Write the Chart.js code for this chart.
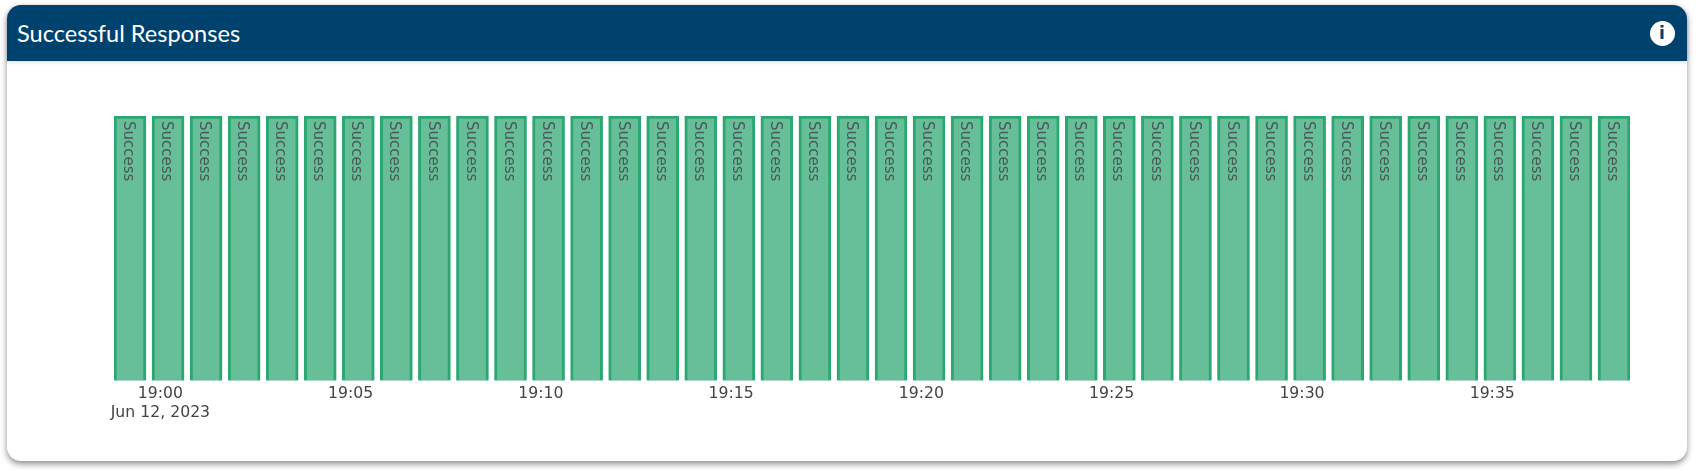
<!DOCTYPE html>
<html>
<head>
<meta charset="utf-8">
<title>Successful Responses</title>
<script src="https://cdn.jsdelivr.net/npm/chart.js@4"></script>
<style>
html, body { margin: 0; padding: 0; background: #fff; }
body { width: 1703px; height: 471px; position: relative; overflow: hidden; }
.card {
    position: absolute; left: 7px; top: 5px; width: 1680px; height: 456px;
    background: #fff; border-radius: 14px;
    box-shadow: 0 3px 6px rgba(0, 0, 0, 0.45);
}
.head {
    height: 56px; background: #00426e; border-radius: 14px 14px 0 0;
    color: #fff; font: 23.6px Lato, sans-serif; line-height: 56px; padding-left: 10px;
    box-sizing: border-box; position: relative;
    box-shadow: 0 1px 4px rgba(0, 0, 0, 0.15);
}
.info {
    position: absolute; right: 12.5px; top: 15.5px; width: 25px; height: 25px; border-radius: 50%;
    background: #fff; color: #00426e; font: bold 17px/25px "DejaVu Sans", sans-serif; text-align: center;
}
#wrap { position: absolute; left: 0; top: 0; width: 1703px; height: 471px; }
#grafico { display: block; }
</style>
</head>
<body>
<div class="card">
    <div class="head">Successful Responses<span class="info">i</span></div>
</div>
<div id="wrap"><canvas id="grafico" width="1703" height="471"></canvas></div>
<script>
// minutes after 19:00 for each bar
const minutos = [-0.8, 0.2, 1.2, 2.2, 3.2, 4.2, 5.2, 6.2, 7.2, 8.2, 9.2, 10.2, 11.2, 12.2, 13.2, 14.2, 15.2, 16.2, 17.2, 18.2,
    19.2, 20.2, 21.2, 22.2, 23.2, 24.2, 25.2, 26.2, 27.2, 28.2, 29.2, 30.2, 31.2, 32.2, 33.2, 34.2, 35.2, 36.2, 37.2, 38.2];
const valores = [1, 1, 1, 1, 1, 1, 1, 1, 1, 1, 1, 1, 1, 1, 1, 1, 1, 1, 1, 1,
    1, 1, 1, 1, 1, 1, 1, 1, 1, 1, 1, 1, 1, 1, 1, 1, 1, 1, 1, 1];
const status = "Success";
const ticksMin = [0, 5, 10, 15, 20, 25, 30, 35];
const ticksTexto = [["19:00", "Jun 12, 2023"], "19:05", "19:10", "19:15", "19:20", "19:25", "19:30", "19:35"];

// writes the status rotated inside each bar
const textoBarras = {
    id: 'textoBarras',
    afterDatasetsDraw(chart) {
        const ctx = chart.ctx;
        ctx.save();
        ctx.fillStyle = '#4b5856';
        ctx.font = '15px "DejaVu Sans", sans-serif';
        ctx.textAlign = 'left';
        ctx.textBaseline = 'middle';
        chart.getDatasetMeta(0).data.forEach(function (bar) {
            ctx.save();
            ctx.translate(bar.x - 2, bar.y + 5);
            ctx.rotate(Math.PI / 2);
            ctx.fillText(status, 0, 0);
            ctx.restore();
        });
        ctx.restore();
    }
};

const ctx = document.getElementById('grafico');

new Chart(ctx, {
    type: 'bar',
    data: {
        datasets: [{
            label: status,
            data: minutos.map(function (m, i) { return { x: m, y: valores[i] }; }),
            backgroundColor: 'rgba(103, 191, 153, 1)',
            borderColor: '#2ba772',
            borderWidth: 3,
            barThickness: 32
        }]
    },
    options: {
        responsive: false,
        animation: false,
        layout: { padding: { left: 114, right: 73, top: 116, bottom: 45 } },
        plugins: { legend: { display: false }, tooltip: { enabled: false } },
        scales: {
            x: {
                type: 'linear',
                offset: false,
                min: -1.22,
                max: 38.62,
                grid: { display: false, drawTicks: false },
                border: { display: false },
                afterBuildTicks(axis) {
                    axis.ticks = ticksMin.map(function (v) { return { value: v }; });
                },
                ticks: {
                    autoSkip: false,
                    maxRotation: 0,
                    padding: 3,
                    color: '#444',
                    font: { family: '"DejaVu Sans"', size: 15.7, lineHeight: 1.25 },
                    callback(value) {
                        return ticksTexto[ticksMin.indexOf(value)];
                    }
                }
            },
            y: {
                min: 0,
                max: 1,
                display: false
            }
        }
    },
    plugins: [textoBarras]
});
</script>
</body>
</html>
